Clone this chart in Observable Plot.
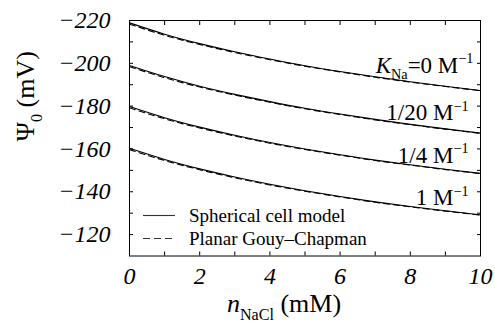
<!DOCTYPE html>
<html><head><meta charset="utf-8">
<script src="https://cdn.jsdelivr.net/npm/d3@7"></script>
<script src="https://cdn.jsdelivr.net/npm/@observablehq/plot@0.6"></script>
<style>
body{margin:0;background:#fff;}
#wrap{position:relative;width:495px;height:324px;overflow:hidden;font-family:"Liberation Serif","Times New Roman",serif;}
#wrap svg text{font-family:"Liberation Serif","Times New Roman",serif;}
#wrap svg .ticklab text{font-size:24px;font-style:italic;}
#legend{position:absolute;left:143px;top:203.5px;font-size:19px;color:#000;}
#legend .row{display:flex;align-items:center;height:23px;line-height:23px;white-space:nowrap;}
#legend svg{display:block;margin-right:14px;}
</style></head><body><div id="wrap"></div>
<script>
// ---- data ----
const nNaCl = [0,1,2,3,4,5,6,7,8,9,10];
const seriesKeys = ["K0","K1_20","K1_4","K1"];
const kLabels = ["*K*_{Na}=0 M^{−1}", "1/20 M^{−1}", "1/4 M^{−1}", "1 M^{−1}"];
const labelX = [9.8, 9.66, 9.66, 9.66];
const labelY = [-195.7, -173.3, -153.6, -133.6];

const sphericalK0   = [-218.9,-213.6,-209.2,-205.4,-202.0,-198.9,-196.2,-193.7,-191.4,-189.3,-187.3];
const sphericalK1_20= [-199.0,-193.8,-189.3,-185.5,-182.1,-179.0,-176.3,-173.8,-171.5,-169.4,-167.4];
const sphericalK1_4 = [-179.8,-174.6,-170.2,-166.4,-163.0,-160.0,-157.3,-154.8,-152.6,-150.5,-148.6];
const sphericalK1   = [-160.3,-155.1,-150.7,-146.9,-143.5,-140.5,-137.8,-135.3,-133.1,-131.1,-129.2];

const planarK0   = [-218.3,-213.1,-208.8,-205.05,-201.7,-198.65,-196.0,-193.5,-191.25,-189.15,-187.2];
const planarK1_20= [-198.4,-193.3,-188.9,-185.15,-181.8,-178.75,-176.1,-173.6,-171.35,-169.25,-167.3];
const planarK1_4 = [-179.2,-174.1,-169.8,-166.05,-162.7,-159.75,-157.1,-154.6,-152.45,-150.35,-148.5];
const planarK1   = [-159.7,-154.6,-150.3,-146.55,-143.2,-140.25,-137.6,-135.1,-132.95,-130.95,-129.1];

const yTickLabels = [-220,-200,-180,-160,-140,-120];
const yTickMarks = [-210,-200,-190,-180,-170,-160,-150,-140,-130,-120];
const xTickLabels = [0,2,4,6,8,10];
const xTickMarks = [1,2,3,4,5,6,7,8,9];
const legendLabels = ["Spherical cell model", "Planar Gouy–Chapman"];
const xTitle = "*n*_{NaCl} (mM)";
const yTitle = "Ψ_{0} (mV)";

// ---- tables ----
const FF = "Liberation Serif";
const sph = [sphericalK0, sphericalK1_20, sphericalK1_4, sphericalK1];
const pla = [planarK0, planarK1_20, planarK1_4, planarK1];
const rowsS = [], rowsP = [];
seriesKeys.forEach((k, i) => nNaCl.forEach((x, j) => {
  rowsS.push({series: k, x, y: sph[i][j]});
  rowsP.push({series: k, x, y: pla[i][j]});
}));
const labelRows = kLabels.map((t, i) => ({label: t, x: labelX[i], y: labelY[i]}));

const plot = Plot.plot({
  width: 495, height: 324,
  marginLeft: 129, marginRight: 15, marginTop: 20, marginBottom: 68.5,
  style: {background: "white", color: "black"},
  x: {domain: [0, 10]},
  y: {domain: [-110, -220]},
  marks: [
    Plot.line(rowsS, {x: "x", y: "y", z: "series", curve: "natural", stroke: "black", strokeWidth: 1.1}),
    Plot.line(rowsP, {x: "x", y: "y", z: "series", curve: "natural", stroke: "black", strokeWidth: 1.1, strokeDasharray: "6,4"}),
    Plot.frame({stroke: "black", strokeWidth: 1}),
    Plot.axisY({anchor: "left", ticks: yTickLabels, tickSize: 0, tickPadding: 19, fontSize: 24, fontFamily: FF, fontStyle: "italic", label: null, tickFormat: d3.format("d"), className: "ticklab"}),
    Plot.axisY({anchor: "left", ticks: yTickMarks, tickSize: 4, dx: 4, tickFormat: () => "", label: null}),
    Plot.axisY({anchor: "right", ticks: yTickMarks, tickSize: 4, dx: -4, tickFormat: () => "", label: null}),
    Plot.axisX({anchor: "bottom", ticks: xTickLabels, tickSize: 0, tickPadding: 11, fontSize: 24, fontFamily: FF, fontStyle: "italic", label: null, tickFormat: d3.format("d"), className: "ticklab"}),
    Plot.axisX({anchor: "bottom", ticks: xTickMarks, tickSize: 4, dy: -4, tickFormat: () => "", label: null}),
    Plot.axisX({anchor: "top", ticks: xTickMarks, tickSize: 4, dy: 4, tickFormat: () => "", label: null}),
    Plot.text(labelRows, {x: "x", y: "y", text: "label", textAnchor: "end", lineAnchor: "bottom", fontSize: 23, fontFamily: FF, className: "klabel"}),
    Plot.text([xTitle], {frameAnchor: "bottom", text: d => d, lineAnchor: "bottom", dy: 56, dx: -21, fontSize: 26, fontFamily: FF, className: "xtitle"}),
    Plot.text([yTitle], {frameAnchor: "left", text: d => d, rotate: -90, dx: -104, dy: 3, fontSize: 26, fontFamily: FF, className: "ytitle"})
  ]
});

function richify(el, str, size) {
  const t = d3.select(el);
  t.text(null);
  const parts = str.split(/(\*[^*]+\*|_\{[^}]*\}|\^\{[^}]*\})/).filter(s => s.length);
  let shift = 0;
  parts.forEach(p => {
    let kind = "n", s = p;
    if (p.startsWith("_{")) { kind = "sub"; s = p.slice(2, -1); }
    else if (p.startsWith("^{")) { kind = "sup"; s = p.slice(2, -1); }
    else if (p.startsWith("*")) { kind = "it"; s = p.slice(1, -1); }
    const target = kind === "sub" ? size * 0.3 : kind === "sup" ? -size * 0.4 : 0;
    const ts = t.append("tspan").text(s);
    if (target - shift !== 0) ts.attr("dy", target - shift);
    shift = target;
    if (kind === "sub" || kind === "sup") ts.attr("font-size", size * 0.62);
    if (kind === "it") ts.attr("font-style", "italic");
  });
}
const svg = d3.select(plot);
svg.selectAll(".klabel text").each(function(d, i) { richify(this, kLabels[i], 23); });
svg.selectAll(".xtitle text").each(function() { richify(this, xTitle, 26); });
svg.selectAll(".ytitle text").each(function() { richify(this, yTitle, 26); });

const wrap = document.getElementById("wrap");
wrap.appendChild(plot);

// legend overlay
const legend = d3.select(wrap).append("div").attr("id", "legend");
legendLabels.forEach((lab, i) => {
  const row = legend.append("div").attr("class", "row");
  const s = row.append("svg").attr("width", 32).attr("height", 23);
  s.append("line").attr("x1", 0).attr("x2", 32).attr("y1", 11.5).attr("y2", 11.5)
    .attr("stroke", "#333").attr("stroke-width", 1.1)
    .attr("stroke-dasharray", i === 1 ? "7,4" : null);
  row.append("span").text(lab);
});
</script></body></html>
